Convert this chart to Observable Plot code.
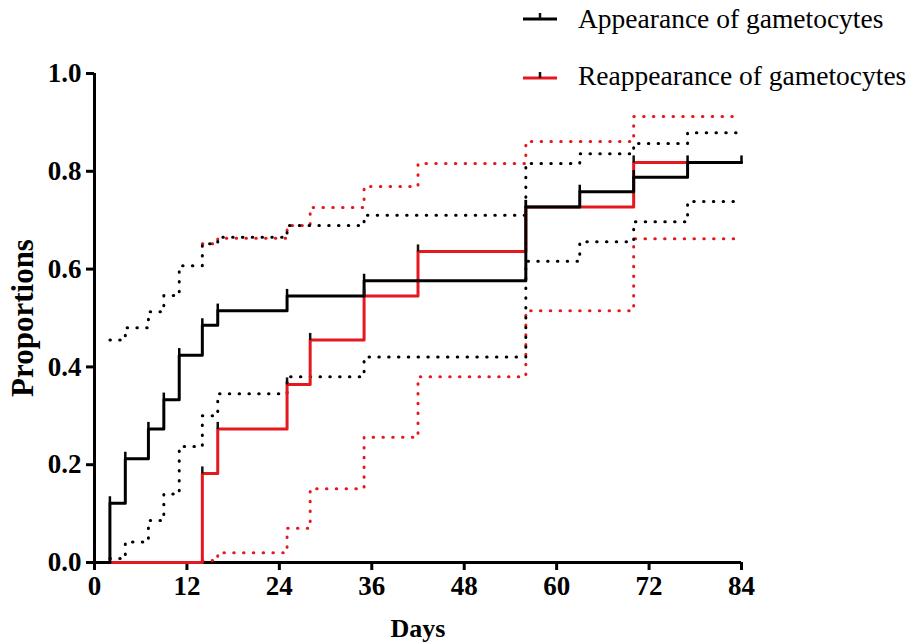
<!DOCTYPE html>
<html>
<head>
<meta charset="utf-8">
<script src="https://cdn.jsdelivr.net/npm/d3@7"></script>
<script src="https://cdn.jsdelivr.net/npm/@observablehq/plot@0.6"></script>
<style>
  body { margin: 0; background: #fff; }
  #wrap { position: relative; width: 915px; height: 642px; }
  #chart { position: absolute; left: 0; top: 0; }
  #legend { position: absolute; left: 515px; top: 0; }
</style>
</head>
<body>
<div id="wrap">
  <div id="chart"></div>
  <svg id="legend" width="400" height="100"></svg>
</div>
<script>
// ---- data ----
const seriesNames = ["Appearance of gametocytes", "Reappearance of gametocytes"];
const seriesColors = ["#000000", "#e3191f"];

// Appearance (black) Kaplan-Meier step curve
const appDays   = [0, 2, 4, 7, 9, 11, 14, 16, 25, 35, 56, 63, 70, 77, 84];
const appProp   = [0, 0.121, 0.212, 0.273, 0.333, 0.424, 0.485, 0.515, 0.545, 0.576, 0.727, 0.758, 0.788, 0.818, 0.818];
// Appearance confidence bands
const appCIDays  = [2, 4, 7, 9, 11, 14, 16, 25, 35, 56, 63, 70, 77, 84];
const appUpper   = [0.455, 0.48, 0.513, 0.546, 0.607, 0.652, 0.665, 0.689, 0.71, 0.816, 0.836, 0.857, 0.879, 0.879];
const appLower   = [0.008, 0.042, 0.086, 0.14, 0.237, 0.30, 0.345, 0.38, 0.42, 0.616, 0.656, 0.697, 0.738, 0.738];

// Reappearance (red) step curve
const reDays    = [0, 14, 16, 25, 28, 35, 42, 56, 70, 84];
const reProp    = [0, 0.182, 0.273, 0.364, 0.455, 0.545, 0.636, 0.727, 0.818, 0.818];
// Reappearance confidence bands
const reCIDays  = [14, 16, 25, 28, 35, 42, 56, 70, 84];
const reUpper   = [0.652, 0.663, 0.689, 0.726, 0.769, 0.816, 0.861, 0.912, 0.912];
const reLower   = [0.004, 0.02, 0.07, 0.151, 0.256, 0.38, 0.515, 0.662, 0.662];

const xTicks = [0, 12, 24, 36, 48, 60, 72, 84];
const yTicks = [0, 0.2, 0.4, 0.6, 0.8, 1.0];

// ---- build tables ----
const toRows = (xs, ys) => xs.map((x, i) => ({x, y: ys[i]}));
const app = toRows(appDays, appProp);
const re = toRows(reDays, reProp);
const appU = toRows(appCIDays, appUpper), appL = toRows(appCIDays, appLower);
const reU = toRows(reCIDays, reUpper), reL = toRows(reCIDays, reLower);
const appMarks = app.slice(1);
const reMarks = re.slice(1, re.length - 1);

// custom censor tick symbol: a short vertical stroke pointing up
const censorTick = { draw(ctx, size) { const h = Math.sqrt(size); ctx.moveTo(0, 0); ctx.lineTo(0, -h); } };

const dotted = { curve: "step-after", strokeWidth: 3, strokeDasharray: "0.5 9.3", strokeLinecap: "round" };

const plot = Plot.plot({
  width: 915,
  height: 642,
  marginLeft: 94,
  marginRight: 174,
  marginTop: 73,
  marginBottom: 80,
  style: { fontFamily: "'Liberation Serif', serif", fontSize: "27px", fontWeight: "bold", color: "#000", background: "#fff" },
  x: { domain: [0, 84] },
  y: { domain: [0, 1] },
  marks: [
    Plot.axisX({ ticks: xTicks, tickSize: 8, tickPadding: 5, strokeWidth: 3, label: "Days", labelAnchor: "center", labelArrow: "none", labelOffset: 74 }),
    Plot.axisY({ ticks: yTicks, tickSize: 8, tickPadding: 5, strokeWidth: 3, tickFormat: d3.format(".1f"), label: "Proportions", labelAnchor: "center", labelArrow: "none", labelOffset: 84 }),
    Plot.ruleY([0], { strokeWidth: 3 }),
    Plot.ruleX([0], { strokeWidth: 3 }),
    Plot.line(reU, { x: "x", y: "y", stroke: seriesColors[1], ...dotted }),
    Plot.line(reL, { x: "x", y: "y", stroke: seriesColors[1], ...dotted }),
    Plot.line(appU, { x: "x", y: "y", stroke: seriesColors[0], ...dotted }),
    Plot.line(appL, { x: "x", y: "y", stroke: seriesColors[0], ...dotted }),
    Plot.line(re, { x: "x", y: "y", curve: "step-after", stroke: seriesColors[1], strokeWidth: 3 }),
    Plot.line(app, { x: "x", y: "y", curve: "step-after", stroke: seriesColors[0], strokeWidth: 3 }),
    Plot.dot(reMarks, { x: "x", y: "y", symbol: censorTick, r: 4, stroke: "#111", strokeWidth: 2.5, fill: "none" }),
    Plot.dot(appMarks, { x: "x", y: "y", symbol: censorTick, r: 4, stroke: "#000", strokeWidth: 2.5, fill: "none" })
  ]
});
document.getElementById("chart").appendChild(plot);
// axis title sizes
d3.select(plot).selectAll("[aria-label='y-axis label'] text").style("font-size", "31px");
d3.select(plot).selectAll("[aria-label='x-axis label'] text").style("font-size", "26px");

// ---- legend ----
const legend = d3.select("#legend");
const rowLine = [19, 78], rowBase = [28, 85];
seriesNames.forEach((name, i) => {
  const g = legend.append("g");
  g.append("line").attr("x1", 8).attr("x2", 42).attr("y1", rowLine[i]).attr("y2", rowLine[i])
    .attr("stroke", seriesColors[i]).attr("stroke-width", 3);
  g.append("line").attr("x1", 25).attr("x2", 25).attr("y1", rowLine[i]).attr("y2", rowLine[i] - 6)
    .attr("stroke", "#111").attr("stroke-width", 2.5);
  g.append("text").attr("x", 63).attr("y", rowBase[i])
    .attr("font-family", "'Liberation Serif', serif").attr("font-size", 27.5).attr("fill", "#000")
    .text(name);
});
</script>
</body>
</html>
